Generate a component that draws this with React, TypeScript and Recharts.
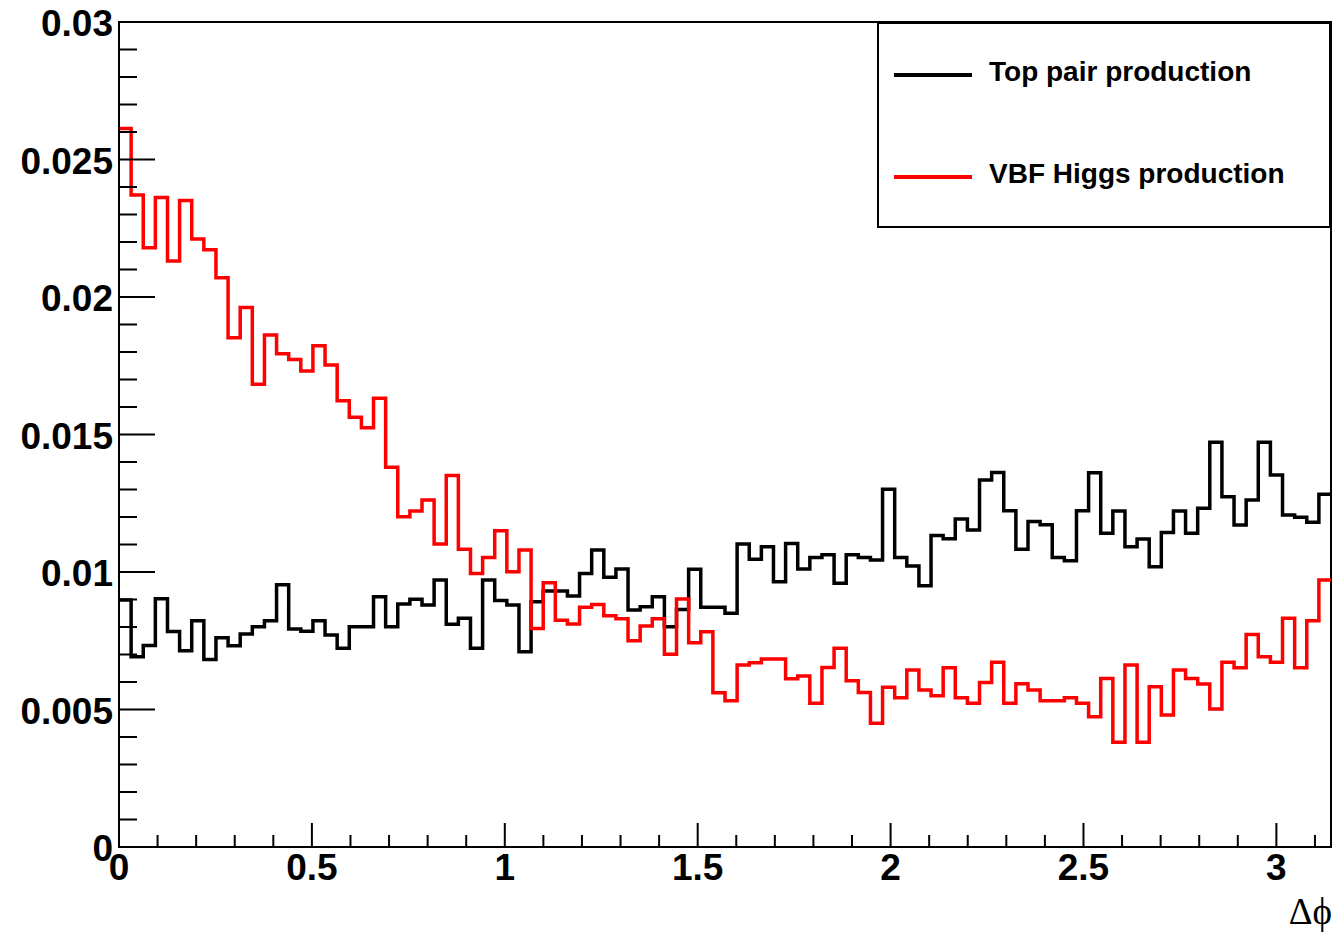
import React from "react"
import { LineChart, Line, XAxis, YAxis, ReferenceArea, Legend } from "recharts"

// 100 bins between 0 and pi
const NBINS = 100
const XMAX = Math.PI

const topPair = [
  0.00898, 0.00692, 0.00733, 0.00903, 0.00784, 0.00714, 0.00823, 0.00682, 0.00761, 0.00732,
  0.00775, 0.00801, 0.00823, 0.00954, 0.00793, 0.00785, 0.00823, 0.00771, 0.00723, 0.00801,
  0.00801, 0.0091, 0.00801, 0.00884, 0.00901, 0.0088, 0.00971, 0.0081, 0.00832, 0.00723,
  0.00971, 0.00896, 0.0088, 0.0071, 0.00892, 0.00931, 0.00931, 0.00913, 0.00995, 0.0108,
  0.00981, 0.01011, 0.00862, 0.00874, 0.0091, 0.00801, 0.00864, 0.0101, 0.00872, 0.00872,
  0.0085, 0.01102, 0.01046, 0.01092, 0.00965, 0.01104, 0.01011, 0.01053, 0.01063, 0.00959,
  0.01063, 0.01053, 0.01044, 0.01301, 0.01053, 0.01022, 0.0095, 0.01133, 0.01121, 0.01193,
  0.01153, 0.01335, 0.01362, 0.01223, 0.01083, 0.01184, 0.01172, 0.01053, 0.01041, 0.01223,
  0.01361, 0.01141, 0.01222, 0.01092, 0.0112, 0.01019, 0.01144, 0.01222, 0.01141, 0.01232,
  0.01472, 0.01274, 0.01171, 0.01262, 0.01472, 0.01353, 0.01207, 0.01199, 0.01181, 0.01283,
]

const vbfHiggs = [
  0.02613, 0.02371, 0.02179, 0.02362, 0.02131, 0.02351, 0.02211, 0.02172, 0.0207, 0.01852,
  0.01962, 0.01683, 0.01862, 0.01794, 0.01773, 0.01731, 0.01823, 0.01753, 0.01623, 0.01563,
  0.01525, 0.01632, 0.01381, 0.01201, 0.01222, 0.01262, 0.01102, 0.01351, 0.01083, 0.00995,
  0.01053, 0.0115, 0.01001, 0.0108, 0.00795, 0.00961, 0.00825, 0.00811, 0.00872, 0.00882,
  0.00841, 0.0083, 0.0075, 0.00804, 0.0083, 0.00701, 0.00902, 0.00743, 0.00783, 0.00561,
  0.00532, 0.00662, 0.0067, 0.00684, 0.00684, 0.00612, 0.00622, 0.00523, 0.00653, 0.00723,
  0.00605, 0.00562, 0.0045, 0.00581, 0.00543, 0.00644, 0.00571, 0.0055, 0.00652, 0.00543,
  0.00523, 0.00598, 0.00672, 0.00523, 0.00594, 0.00571, 0.00532, 0.00532, 0.00543, 0.00523,
  0.00474, 0.00613, 0.00381, 0.00662, 0.00381, 0.00583, 0.0048, 0.00644, 0.00613, 0.00593,
  0.00502, 0.00672, 0.00652, 0.00773, 0.00692, 0.00672, 0.00832, 0.00652, 0.00823, 0.00971,
]

const xMajorLabels = ["0", "0.5", "1", "1.5", "2", "2.5", "3"]
const xMajorValues = [0, 0.5, 1, 1.5, 2, 2.5, 3]
const yMajorLabels = ["0", "0.005", "0.01", "0.015", "0.02", "0.025", "0.03"]
const yMajorValues = [0, 0.005, 0.01, 0.015, 0.02, 0.025, 0.03]

// minor ticks: 0.1 on x, 0.001 on y
const xTicks: number[] = []
for (let i = 0; i <= 31; i++) xTicks.push(i / 10)
const yTicks: number[] = []
for (let i = 0; i <= 30; i++) yTicks.push(i / 1000)

// histogram table: one row per lower bin edge, plus the upper edge
const binW = XMAX / NBINS
const data = topPair.map((v, i) => ({ x: i * binW, top: v, vbf: vbfHiggs[i] }))
data.push({ x: XMAX, top: topPair[NBINS - 1], vbf: vbfHiggs[NBINS - 1] })

const FONT = "'Liberation Sans', Helvetica, Arial, sans-serif"

function majorIndex(v: number, majors: number[], tol: number) {
  return majors.findIndex((m) => Math.abs(m - v) < tol)
}

const XTick = (props: any) => {
  const { x, y, payload } = props
  const idx = majorIndex(payload.value, xMajorValues, 1e-6)
  const len = idx >= 0 ? 24 : 12
  return (
    <g>
      <line x1={x} x2={x} y1={y} y2={y - len} stroke="#000" strokeWidth={2} />
      {idx >= 0 && (
        <text x={x} y={y + 33} textAnchor="middle" fontFamily={FONT} fontWeight="bold" fontSize={37} fill="#000">
          {xMajorLabels[idx]}
        </text>
      )}
    </g>
  )
}

const YTick = (props: any) => {
  const { x, y, payload } = props
  const idx = majorIndex(payload.value, yMajorValues, 1e-7)
  const len = idx >= 0 ? 36 : 18
  return (
    <g>
      <line x1={x} x2={x + len} y1={y} y2={y} stroke="#000" strokeWidth={2} />
      {idx >= 0 && (
        <text x={x - 6} y={y + 14} textAnchor="end" fontFamily={FONT} fontWeight="bold" fontSize={37} fill="#000">
          {yMajorLabels[idx]}
        </text>
      )}
    </g>
  )
}

const renderLegend = (props: any) => {
  const items = props.payload || []
  return (
    <svg width={454} height={206} style={{ display: "block" }}>
      <rect x={1} y={1} width={452} height={204} fill="#fff" stroke="#000" strokeWidth={2} />
      {items.map((it: any, i: number) => {
        const ly = i === 0 ? 53 : 155
        return (
          <g key={it.value}>
            <line x1={17} x2={95} y1={ly} y2={ly} stroke={it.color} strokeWidth={4} />
            <text x={112} y={ly + 6} fontFamily={FONT} fontWeight="bold" fontSize={28} fill="#000">
              {it.value}
            </text>
          </g>
        )
      })}
    </svg>
  )
}

const AxisTitle = (props: any) => {
  const vb = props.viewBox
  return (
    <text x={vb.x + vb.width + 1} y={vb.y + 77} textAnchor="end" fontFamily="'Liberation Serif', 'Times New Roman', serif" fontSize={37} fill="#000">
      Δϕ
    </text>
  )
}

export default function App() {
  return (
    <div style={{ position: "absolute", left: 0, top: 0, width: 1336, height: 936, background: "#fff" }}>
      <LineChart width={1336} height={936} data={data} margin={{ top: 22, right: 5, bottom: 0, left: 19 }}>
        <XAxis
          type="number"
          dataKey="x"
          domain={[0, XMAX]}
          ticks={xTicks}
          interval={0}
          allowDataOverflow
          height={89}
          tickSize={0}
          tickMargin={0}
          tick={<XTick />}
          axisLine={{ stroke: "#000", strokeWidth: 2 }}
          tickLine={false}
          label={<AxisTitle />}
        />
        <YAxis
          type="number"
          domain={[0, 0.03]}
          ticks={yTicks}
          interval={0}
          allowDataOverflow
          width={100}
          tickSize={0}
          tickMargin={0}
          tick={<YTick />}
          axisLine={{ stroke: "#000", strokeWidth: 2 }}
          tickLine={false}
        />
        <ReferenceArea x1={0} x2={XMAX} y1={0} y2={0.03} fill="none" stroke="#000" strokeWidth={2} ifOverflow="visible" />
        <Legend
          layout="vertical"
          align="center"
          verticalAlign="middle"
          content={renderLegend}
          wrapperStyle={{ position: "absolute", left: 877, top: 22, width: 454, height: 206 }}
        />
        <Line
          type="stepAfter"
          dataKey="top"
          name="Top pair production"
          stroke="#000"
          strokeWidth={3.5}
          dot={false}
          activeDot={false}
          isAnimationActive={false}
        />
        <Line
          type="stepAfter"
          dataKey="vbf"
          name="VBF Higgs production"
          stroke="#ff0000"
          strokeWidth={3.5}
          dot={false}
          activeDot={false}
          isAnimationActive={false}
        />
      </LineChart>
    </div>
  )
}
